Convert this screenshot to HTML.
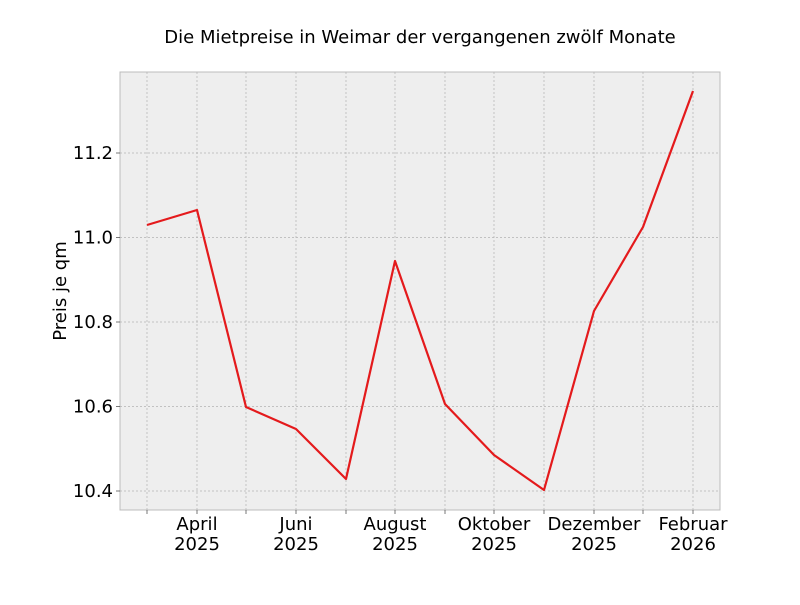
<!DOCTYPE html>
<html><head><meta charset="utf-8"><style>body{margin:0;background:#fff}</style></head><body>
<svg width="800" height="600" xmlns="http://www.w3.org/2000/svg" font-family="DejaVu Sans, sans-serif">
<rect width="800" height="600" fill="#fff"/>
<rect x="120" y="72" width="600" height="438" fill="#eeeeee" stroke="#bcbcbc" stroke-width="1"/>
<g stroke="#b2b2b2" stroke-width="0.7" stroke-dasharray="2,2">
<line x1="147" y1="72" x2="147" y2="510"/><line x1="197" y1="72" x2="197" y2="510"/>
<line x1="246" y1="72" x2="246" y2="510"/><line x1="296" y1="72" x2="296" y2="510"/>
<line x1="346" y1="72" x2="346" y2="510"/><line x1="395" y1="72" x2="395" y2="510"/>
<line x1="445" y1="72" x2="445" y2="510"/><line x1="494" y1="72" x2="494" y2="510"/>
<line x1="544" y1="72" x2="544" y2="510"/><line x1="594" y1="72" x2="594" y2="510"/>
<line x1="643" y1="72" x2="643" y2="510"/><line x1="693" y1="72" x2="693" y2="510"/>
<line x1="120" y1="491" x2="720" y2="491"/><line x1="120" y1="406.5" x2="720" y2="406.5"/>
<line x1="120" y1="322" x2="720" y2="322"/><line x1="120" y1="237.5" x2="720" y2="237.5"/>
<line x1="120" y1="153" x2="720" y2="153"/>
</g>
<g stroke="#555" stroke-width="0.8">
<line x1="147" y1="510" x2="147" y2="514"/><line x1="197" y1="510" x2="197" y2="514"/><line x1="246" y1="510" x2="246" y2="514"/><line x1="296" y1="510" x2="296" y2="514"/><line x1="346" y1="510" x2="346" y2="514"/><line x1="395" y1="510" x2="395" y2="514"/><line x1="445" y1="510" x2="445" y2="514"/><line x1="494" y1="510" x2="494" y2="514"/><line x1="544" y1="510" x2="544" y2="514"/><line x1="594" y1="510" x2="594" y2="514"/><line x1="643" y1="510" x2="643" y2="514"/><line x1="693" y1="510" x2="693" y2="514"/>
<line x1="116" y1="491" x2="120" y2="491"/><line x1="116" y1="406.5" x2="120" y2="406.5"/><line x1="116" y1="322" x2="120" y2="322"/><line x1="116" y1="237.5" x2="120" y2="237.5"/><line x1="116" y1="153" x2="120" y2="153"/>
</g>
<polyline fill="none" stroke="#e41a1c" stroke-width="2.2" stroke-linejoin="round" points="147,225 197,210 246,407 296,429 346,479 395,261 445,404 494,455 544,490 594,311 643,227 693,91"/>
<g font-size="18" fill="#000" text-anchor="end">
<text x="113" y="497">10.4</text><text x="113" y="412.5">10.6</text><text x="113" y="328">10.8</text><text x="113" y="243.5">11.0</text><text x="113" y="159">11.2</text>
</g>
<g font-size="18" fill="#000" text-anchor="middle">
<text x="197" y="530">April</text><text x="197" y="550">2025</text>
<text x="296" y="530">Juni</text><text x="296" y="550">2025</text>
<text x="395" y="530">August</text><text x="395" y="550">2025</text>
<text x="494" y="530">Oktober</text><text x="494" y="550">2025</text>
<text x="594" y="530">Dezember</text><text x="594" y="550">2025</text>
<text x="693" y="530">Februar</text><text x="693" y="550">2026</text>
</g>
<text x="66" y="291" font-size="18" text-anchor="middle" transform="rotate(-90 66 291)">Preis je qm</text>
<text x="420" y="43" font-size="18" text-anchor="middle">Die Mietpreise in Weimar der vergangenen zwölf Monate</text>
</svg>
</body></html>
